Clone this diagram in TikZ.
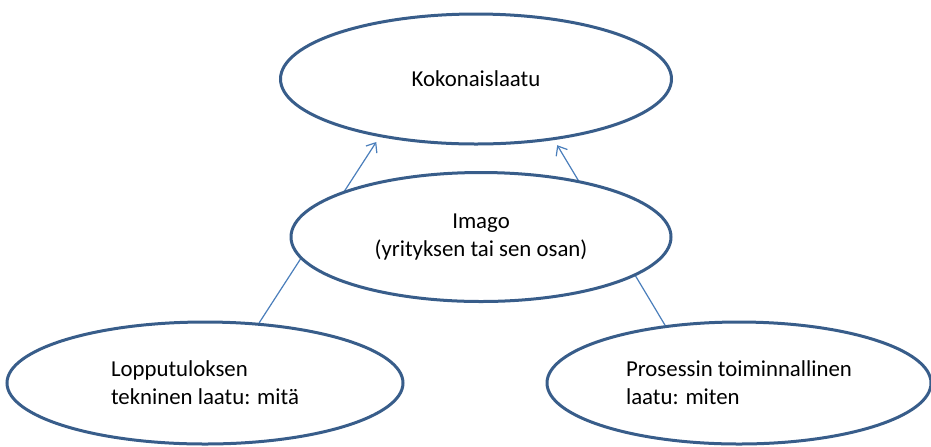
\documentclass[tikz,border=0pt]{standalone}
\usepackage{fontspec}
\setmainfont{Carlito}
\usetikzlibrary{arrows.meta}
\usetikzlibrary{shapes.geometric}

\definecolor{shapeline}{HTML}{385D8A}
\definecolor{linkline}{HTML}{4A7EBB}

\tikzset{
  quality/.style={ellipse,draw=shapeline,line width=1.5pt,fill=white,
    inner sep=0pt,align=left,font=\fontsize{11.4}{13.9}\selectfont},
}

\begin{document}
\begin{tikzpicture}[x=0.5pt,y=-0.5pt]

  \useasboundingbox (0,0) rectangle (931,446);

  \node [quality,align=center,minimum width=195.5pt,minimum height=65pt] (koko) at (476,79) {Kokonaislaatu};
  \node [quality,minimum width=198pt,minimum height=61pt] (loppu) at (205,383) {Lopputuloksen\\tekninen laatu: mitä};
  \node [quality,minimum width=192pt,minimum height=61pt] (prosessi) at (739,383) {Prosessin toiminnallinen\\laatu: miten};

  \path [linkline,line width=0.6pt,>={Straight Barb[length=4pt,width=6.5pt]},shorten >=3pt]
    (loppu.48)     edge [->] (koko.211)
    (prosessi.142) edge [->] (koko.322);

  % imago on top of the links
  \node [quality,align=center,minimum width=190pt,minimum height=64.5pt] (imago) at (481,237) {Imago\\(yrityksen tai sen osan)};

\end{tikzpicture}
\end{document}
